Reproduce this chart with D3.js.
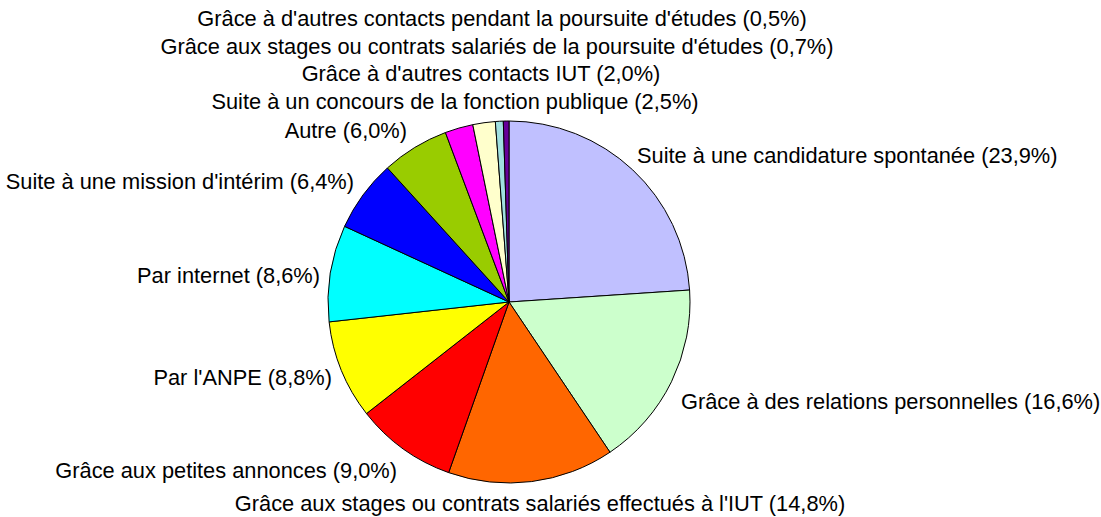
<!DOCTYPE html>
<html>
<head>
<meta charset="utf-8">
<script src="https://cdn.jsdelivr.net/npm/d3@7"></script>
<style>
  body { margin: 0; background: #fff; }
  .lbl { font-family: "Liberation Sans", Arial, sans-serif; font-size: 21.8px; fill: #000; }
</style>
</head>
<body>
<div id="vis1"></div>
<script>
const FRAME_WIDTH = 1101;
const FRAME_HEIGHT = 517;
const CENTER = {x: 509, y: 302};
const RADIUS = 181;

// chart data
const categories = [
  "Suite à une candidature spontanée",
  "Grâce à des relations personnelles",
  "Grâce aux stages ou contrats salariés effectués à l'IUT",
  "Grâce aux petites annonces",
  "Par l'ANPE",
  "Par internet",
  "Suite à une mission d'intérim",
  "Autre",
  "Suite à un concours de la fonction publique",
  "Grâce à d'autres contacts IUT",
  "Grâce aux stages ou contrats salariés de la poursuite d'études",
  "Grâce à d'autres contacts pendant la poursuite d'études"
];
const values = [23.9, 16.6, 14.8, 9.0, 8.8, 8.6, 6.4, 6.0, 2.5, 2.0, 0.7, 0.5];
const colors = ["#c0c0ff", "#ccffcc", "#ff6600", "#ff0000", "#ffff00", "#00ffff",
                "#0000ff", "#99cc00", "#ff00ff", "#ffffcc", "#a0e0e0", "#660099"];

// label placement (centre-y, anchor x, text-anchor), relative to the frame
const LABEL_LAYOUT = [
  {x: 637, y: 155, a: "start"},
  {x: 681, y: 401, a: "start"},
  {x: 540, y: 503, a: "middle"},
  {x: 397, y: 470, a: "end"},
  {x: 332, y: 377, a: "end"},
  {x: 320, y: 275, a: "end"},
  {x: 354, y: 181, a: "end"},
  {x: 407, y: 130, a: "end"},
  {x: 455, y: 101, a: "middle"},
  {x: 481, y: 73, a: "middle"},
  {x: 497, y: 46, a: "middle"},
  {x: 502, y: 18, a: "middle"}
];

const fmt = v => v.toFixed(1).replace(".", ",") + "%";

const data = categories.map((c, i) => ({name: c, value: values[i], color: colors[i]}));

const FRAME1 = d3.select("#vis1")
                 .append("svg")
                 .attr("width", FRAME_WIDTH)
                 .attr("height", FRAME_HEIGHT);

const pie = d3.pie().sort(null).value(d => d.value);
const arc = d3.arc().innerRadius(0).outerRadius(RADIUS);

const G = FRAME1.append("g")
                .attr("transform", "translate(" + CENTER.x + "," + CENTER.y + ")");

G.selectAll(".slice")
 .data(pie(data))
 .enter().append("path")
 .attr("class", "slice")
 .attr("d", arc)
 .attr("fill", d => d.data.color)
 .attr("stroke", "#000")
 .attr("stroke-width", 1);

// labels
FRAME1.selectAll(".lbl")
      .data(data)
      .enter().append("text")
      .attr("class", "lbl")
      .attr("x", (d, i) => LABEL_LAYOUT[i].x)
      .attr("y", (d, i) => LABEL_LAYOUT[i].y)
      .attr("dy", "0.36em")
      .attr("text-anchor", (d, i) => LABEL_LAYOUT[i].a)
      .text(d => d.name + " (" + fmt(d.value) + ")");
</script>
</body>
</html>
